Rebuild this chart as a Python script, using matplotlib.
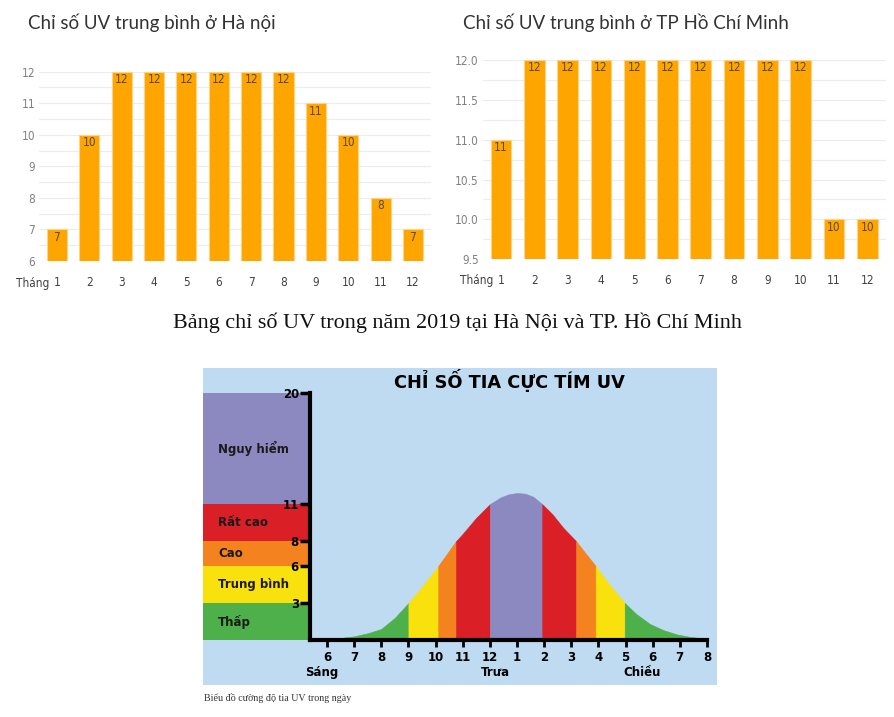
import numpy as np
import matplotlib.pyplot as plt
from matplotlib.ticker import MultipleLocator, FormatStrFormatter
from matplotlib import font_manager

# monthly average UV index, 2019
months = list(range(1, 13))
uv_hanoi = [7, 10, 12, 12, 12, 12, 12, 12, 11, 10, 8, 7]
uv_hcm = [11, 12, 12, 12, 12, 12, 12, 12, 12, 12, 10, 10]

# UV over one day (hour 6 .. 20)
hours = [6.6, 7.0, 7.5, 8.0, 8.5, 9.0, 9.5, 10.1, 10.75, 11.0, 11.5, 12.0,
         12.4, 12.7, 13.0, 13.3, 13.6, 13.93, 14.3, 14.7, 15.18, 15.5, 15.9,
         16.4, 16.97, 17.4, 17.9, 18.4, 18.9, 19.4, 19.85]
uv_day = [0.2, 0.3, 0.55, 0.9, 1.8, 3.0, 4.3, 6.0, 8.0, 8.6, 9.9, 11.0,
          11.55, 11.8, 11.9, 11.85, 11.6, 11.0, 10.2, 9.1, 8.0, 7.1, 6.0,
          4.5, 3.0, 2.1, 1.3, 0.8, 0.45, 0.25, 0.15]
hour_ticks = list(range(6, 21))
hour_labels = ["6", "7", "8", "9", "10", "11", "12", "1", "2", "3", "4", "5", "6", "7", "8"]

levels = ["Thấp", "Trung bình", "Cao", "Rất cao", "Nguy hiểm"]
level_bounds = [0, 3, 6, 8, 11, 20]
level_colors = ["#4DB04A", "#F8E10C", "#F4821F", "#DB1F27", "#8C88C0"]
# hours where the curve crosses a level and the level of each piece
cut_hours = [6.6, 9.0, 10.1, 10.75, 12.0, 13.93, 15.18, 15.9, 16.97, 19.85]
cut_level = [0, 1, 2, 3, 4, 3, 2, 1, 0]

orange = "#FFA500"
names = {f.name for f in font_manager.fontManager.ttflist}
print(sorted(n for n in names if "Narrow" in n or "Condensed" in n or "DejaVu" in n))
narrow_font = font_manager.FontProperties(family="DejaVu Sans", stretch="condensed", size=8.5)
print(font_manager.findfont(narrow_font))

fig = plt.figure(figsize=(8.95, 7.17), dpi=100)


def bar_panel(ax, values, ylo, yhi, minor, fmt, xpad):
    ax.bar(months, values, width=0.62, color=orange, edgecolor="#FFD48A",
           linewidth=0.8, zorder=2)
    for m, v in zip(months, values):
        ax.annotate(str(v), xy=(m, v), xytext=(0, -8), textcoords="offset pixels",
                    ha="center", va="center", fontproperties=narrow_font,
                    color="#5a4a2a")
    ax.set_xlim(0.45, 12.55)
    ax.set_ylim(ylo, yhi)
    ax.yaxis.set_major_locator(MultipleLocator(minor * 2))
    ax.yaxis.set_minor_locator(MultipleLocator(minor))
    ax.yaxis.set_major_formatter(FormatStrFormatter(fmt))
    ax.grid(axis="y", which="both", color="#ececec", lw=0.8, zorder=0)
    ax.set_axisbelow(True)
    for s in ax.spines.values():
        s.set_visible(False)
    ax.set_xticks(months)
    ax.tick_params(axis="x", length=0, pad=xpad, labelcolor="#404040")
    ax.tick_params(axis="y", which="both", length=0, pad=3, labelcolor="#808080")
    for lab in ax.get_xticklabels() + ax.get_yticklabels():
        lab.set_fontproperties(narrow_font)
    ax.annotate("Tháng", xy=(months[0], 0), xycoords=("data", "axes fraction"),
                xytext=(-8, -xpad * 100 / 72 - 7), textcoords="offset pixels",
                ha="right", va="center", fontproperties=narrow_font, color="#404040")


ax1 = fig.add_axes([0.0438, 0.6360, 0.4375, 0.2640])
bar_panel(ax1, uv_hanoi, 6, 12, 0.5, "%d", 11)
ax2 = fig.add_axes([0.5393, 0.6384, 0.4502, 0.2780])
bar_panel(ax2, uv_hcm, 9.5, 12, 0.25, "%.1f", 10.5)

fig.text(28 / 895, 1 - 23 / 717, "Chỉ số UV trung bình ở Hà nội", fontsize=13.5,
         family="Lato", color="#333333", ha="left", va="center")
fig.text(463 / 895, 1 - 23 / 717, "Chỉ số UV trung bình ở TP Hồ Chí Minh", fontsize=13.5,
         family="Lato", color="#333333", ha="left", va="center")
fig.text(457 / 895, 1 - 323 / 717, "Bảng chỉ số UV trong năm 2019 tại Hà Nội và TP. Hồ Chí Minh",
         fontsize=15.9, family="Liberation Serif", color="#111111", ha="center", va="center")

# daily UV chart
ax = fig.add_axes([0.2268, 0.04463, 0.5743, 0.4421])
ax.set_facecolor("#BEDBF1")
xlo, xhi = 1.431, 20.37
axis_x = 5.374
ax.set_xlim(xlo, xhi)
ax.set_ylim(-3.64, 22.02)

panel_frac = (axis_x - xlo) / (xhi - xlo)
for name, lo, hi, col in zip(levels, level_bounds[:-1], level_bounds[1:], level_colors):
    ax.axhspan(lo, hi, xmin=0, xmax=panel_frac, color=col, lw=0, zorder=1)
    ax.text(xlo + 0.55, (lo + hi) / 2, name, fontsize=8.5, fontweight="bold",
            color="#1a1a1a", ha="left", va="center", zorder=3)

h = np.array(hours)
u = np.array(uv_day)
for i, lev in enumerate(cut_level):
    lo, hi = cut_hours[i], cut_hours[i + 1]
    m = (h >= lo - 1e-9) & (h <= hi + 1e-9)
    ax.fill_between(h[m], 0, u[m], color=level_colors[lev], lw=0.4,
                    edgecolor=level_colors[lev], zorder=1)

for s in ["top", "right"]:
    ax.spines[s].set_visible(False)
ax.spines["left"].set_position(("data", axis_x))
ax.spines["left"].set_bounds(0, 20)
ax.spines["bottom"].set_position(("data", 0))
ax.spines["bottom"].set_bounds(axis_x, 20)
for s in ["left", "bottom"]:
    ax.spines[s].set_linewidth(3)
    ax.spines[s].set_color("black")
    ax.spines[s].set_zorder(4)

ax.set_yticks(level_bounds[1:])
ax.set_xticks(hour_ticks)
ax.set_xticklabels(hour_labels)
ax.tick_params(axis="y", direction="out", length=7, width=2.5, pad=1,
               labelsize=8.5)
ax.tick_params(axis="x", direction="out", length=5, width=2, pad=3,
               labelsize=8.5)
for lab in ax.get_xticklabels() + ax.get_yticklabels():
    lab.set_fontweight("bold")

ax.text(12.74, 21.0, "CHỈ SỐ TIA CỰC TÍM UV", fontsize=12.8,
        fontweight="bold", ha="center", va="center")
for label, hx in [("Sáng", 5.8), ("Trưa", 12.2), ("Chiều", 17.6)]:
    ax.text(hx, -2.6, label, fontsize=8.5, fontweight="bold", ha="center", va="center")

fig.text(204 / 895, 1 - 698 / 717, "Biểu đồ cường độ tia UV trong ngày", fontsize=7.2,
         family="Liberation Serif", color="#333333", ha="left", va="center")

fig.savefig("out.png", dpi=100)
